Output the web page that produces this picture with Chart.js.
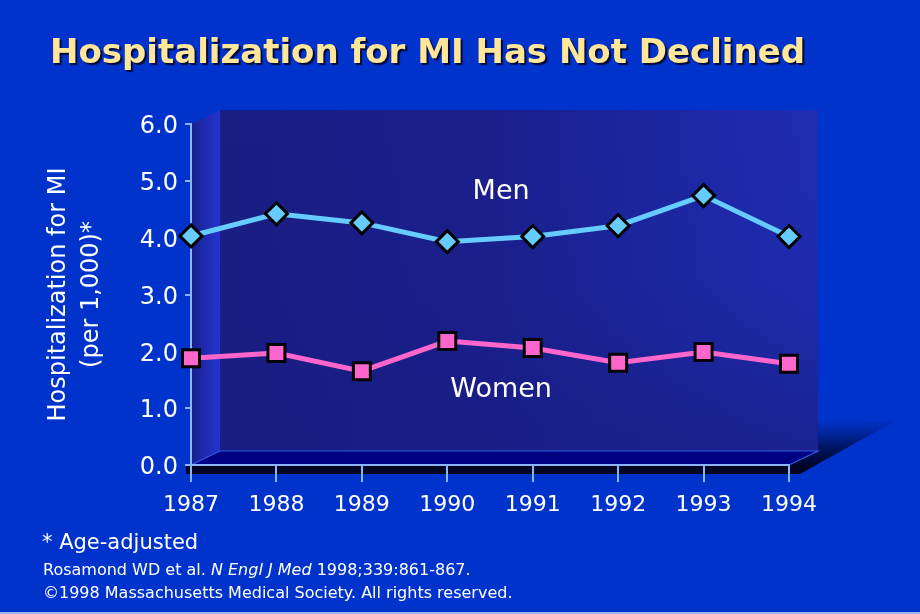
<!DOCTYPE html>
<html>
<head>
<meta charset="utf-8">
<style>
html,body{margin:0;padding:0;background:#0033cc;}
#wrap{position:relative;width:920px;height:614px;overflow:hidden;background:#0033cc;font-family:"DejaVu Sans",Verdana,sans-serif;}
#c{position:absolute;left:0;top:0;}
.txt{position:absolute;white-space:nowrap;line-height:1;color:#fff;}
#title{left:50px;top:35px;font-size:33px;font-weight:bold;color:#ffe699;text-shadow:2px 2px 1px rgba(0,0,30,0.85);transform-origin:0 0;}
#note{left:42px;top:532px;font-size:21px;}
#ref1{left:43px;top:562px;font-size:16px;}
#ref2{left:43px;top:585px;font-size:16px;}
#strip{position:absolute;left:0;top:612px;width:920px;height:2px;background:#9db6f2;}
</style>
<script src="https://cdn.jsdelivr.net/npm/chart.js@4/dist/chart.umd.min.js"></script>
</head>
<body>
<div id="wrap">
  <canvas id="c" width="920" height="614"></canvas>
  <div class="txt" id="title">Hospitalization for MI Has Not Declined</div>
  <div class="txt" id="note">* Age-adjusted</div>
  <div class="txt" id="ref1">Rosamond WD et al. <i>N Engl J Med</i> 1998;339:861-867.</div>
  <div class="txt" id="ref2">©1998 Massachusetts Medical Society. All rights reserved.</div>
  <div id="strip"></div>
</div>
<script>
// ---- data ----
const years = ['1987','1988','1989','1990','1991','1992','1993','1994'];
const menRates = [4.03, 4.42, 4.26, 3.93, 4.02, 4.21, 4.74, 4.02];
const womenRates = [1.88, 1.97, 1.65, 2.18, 2.06, 1.80, 1.99, 1.78];
const yTickValues = [0, 1, 2, 3, 4, 5, 6];
const seriesNames = ['Men', 'Women'];
const yAxisTitle = ['Hospitalization for MI', '(per 1,000)*'];

const FONT = '"DejaVu Sans", Verdana, sans-serif';
const AXIS_COLOR = '#8db4ff';

// 3D box decoration (back wall, side wall, floor, shadow)
const box3d = {
  id: 'box3d',
  beforeDraw(chart) {
    const {ctx} = chart;
    const {left, right, top, bottom} = chart.chartArea;
    const dx = 29, dy = -14;
    ctx.save();
    // shadow wedge to the right
    let g = ctx.createLinearGradient(0, bottom - 46, 0, bottom + 9);
    g.addColorStop(0, 'rgba(0,20,90,0)');
    g.addColorStop(0.55, 'rgba(0,10,60,0.8)');
    g.addColorStop(1, 'rgba(0,0,15,1)');
    ctx.fillStyle = g;
    ctx.beginPath();
    ctx.moveTo(right, bottom);
    ctx.lineTo(right + dx, bottom + dy);
    ctx.lineTo(right + dx, bottom - 46);
    ctx.lineTo(right + 106, bottom - 44);
    ctx.lineTo(right + 11, bottom + 9);
    ctx.closePath();
    ctx.fill();
    // slab front (dark band)
    ctx.fillStyle = '#020620';
    ctx.beginPath();
    ctx.moveTo(left - 5, bottom + 1);
    ctx.lineTo(right, bottom);
    ctx.lineTo(right + 16, bottom + 1);
    ctx.lineTo(right + 11, bottom + 9);
    ctx.lineTo(left - 5, bottom + 9);
    ctx.closePath();
    ctx.fill();
    // side wall
    g = ctx.createLinearGradient(left, 0, left + dx, 0);
    g.addColorStop(0, '#1a1f8c');
    g.addColorStop(0.8, '#2131c4');
    g.addColorStop(1, '#2434cc');
    ctx.fillStyle = g;
    ctx.beginPath();
    ctx.moveTo(left, top);
    ctx.lineTo(left + dx, top + dy);
    ctx.lineTo(left + dx, bottom + dy);
    ctx.lineTo(left, bottom);
    ctx.closePath();
    ctx.fill();
    // back wall
    g = ctx.createLinearGradient(left + dx, 0, right + dx, 0);
    g.addColorStop(0, '#1a1d82');
    g.addColorStop(0.45, '#1a1f8c');
    g.addColorStop(1, '#1f2db4');
    ctx.fillStyle = g;
    ctx.fillRect(left + dx, top + dy, right - left, bottom - top);
    g = ctx.createLinearGradient(0, top + dy, 0, bottom + dy);
    g.addColorStop(0, 'rgba(24,30,130,0)');
    g.addColorStop(0.5, 'rgba(24,30,130,0.1)');
    g.addColorStop(1, 'rgba(24,30,130,0.7)');
    ctx.fillStyle = g;
    ctx.fillRect(left + dx, top + dy, right - left, bottom - top);
    // floor
    ctx.fillStyle = '#000082';
    ctx.beginPath();
    ctx.moveTo(left, bottom);
    ctx.lineTo(right, bottom);
    ctx.lineTo(right + dx, bottom + dy);
    ctx.lineTo(left + dx, bottom + dy);
    ctx.closePath();
    ctx.fill();
    ctx.strokeStyle = '#3558e0';
    ctx.lineWidth = 1.2;
    ctx.stroke();
    ctx.restore();
  },
  afterDraw(chart, args, opts) {
    const {ctx} = chart;
    const xs = chart.scales.x, ys = chart.scales.y;
    ctx.save();
    ctx.fillStyle = '#ffffff';
    ctx.font = '27px ' + FONT;
    ctx.textAlign = 'center';
    ctx.textBaseline = 'alphabetic';
    (opts.labels || []).forEach(l => {
      ctx.fillText(l.text, xs.getPixelForValue(l.x), ys.getPixelForValue(l.y));
    });
    ctx.restore();
  }
};

new Chart(document.getElementById('c'), {
  type: 'line',
  data: {
    labels: years,
    datasets: [
      {
        label: seriesNames[0],
        data: menRates,
        borderColor: '#66ccff',
        backgroundColor: '#66ccff',
        borderWidth: 5,
        pointStyle: 'rectRot',
        pointRadius: 11,
        pointBorderWidth: 3,
        pointBorderColor: '#000000',
        pointBackgroundColor: '#66ccff',
        tension: 0,
        clip: false
      },
      {
        label: seriesNames[1],
        data: womenRates,
        borderColor: '#ff66cc',
        backgroundColor: '#ff66cc',
        borderWidth: 5,
        pointStyle: 'rect',
        pointRadius: 12,
        pointBorderWidth: 3,
        pointBorderColor: '#000000',
        pointBackgroundColor: '#ff66cc',
        tension: 0,
        clip: false
      }
    ]
  },
  options: {
    responsive: false,
    animation: false,
    devicePixelRatio: 1,
    layout: {padding: {left: 30, right: 131, top: 124, bottom: 89}},
    plugins: {
      legend: {display: false},
      tooltip: {enabled: false},
      box3d: {
        labels: [
          {text: seriesNames[0], x: 3.63, y: 4.68},
          {text: seriesNames[1], x: 3.63, y: 1.20}
        ]
      }
    },
    scales: {
      x: {
        type: 'category',
        offset: false,
        grid: {display: true, drawOnChartArea: false, drawTicks: true, tickLength: 17, color: AXIS_COLOR, lineWidth: 2},
        border: {display: true, color: AXIS_COLOR, width: 2},
        ticks: {color: '#ffffff', font: {family: FONT, size: 22}, padding: 10, maxRotation: 0, autoSkip: false},
        afterFit(s) { s.height = 60; }
      },
      y: {
        min: yTickValues[0],
        max: yTickValues[yTickValues.length - 1],
        afterBuildTicks(s) { s.ticks = yTickValues.map(v => ({value: v})); },
        grid: {display: true, drawOnChartArea: false, drawTicks: true, tickLength: 6, color: AXIS_COLOR, lineWidth: 2},
        border: {display: true, color: AXIS_COLOR, width: 2},
        ticks: {color: '#ffffff', font: {family: FONT, size: 24}, padding: 7, labelOffset: 3, callback: v => Number(v).toFixed(1)},
        title: {display: true, text: yAxisTitle, color: '#ffffff', font: {family: FONT, size: 24, lineHeight: 1.375}, padding: {top: 12, bottom: 0}},
        afterFit(s) { s.width = 161; }
      }
    }
  },
  plugins: [box3d]
});

// fit title width to reference span
const t = document.getElementById('title');
const w = t.getBoundingClientRect().width;
const target = 755;
if (w > 0) t.style.transform = 'scaleX(' + (target / w).toFixed(4) + ')';
</script>
</body>
</html>
